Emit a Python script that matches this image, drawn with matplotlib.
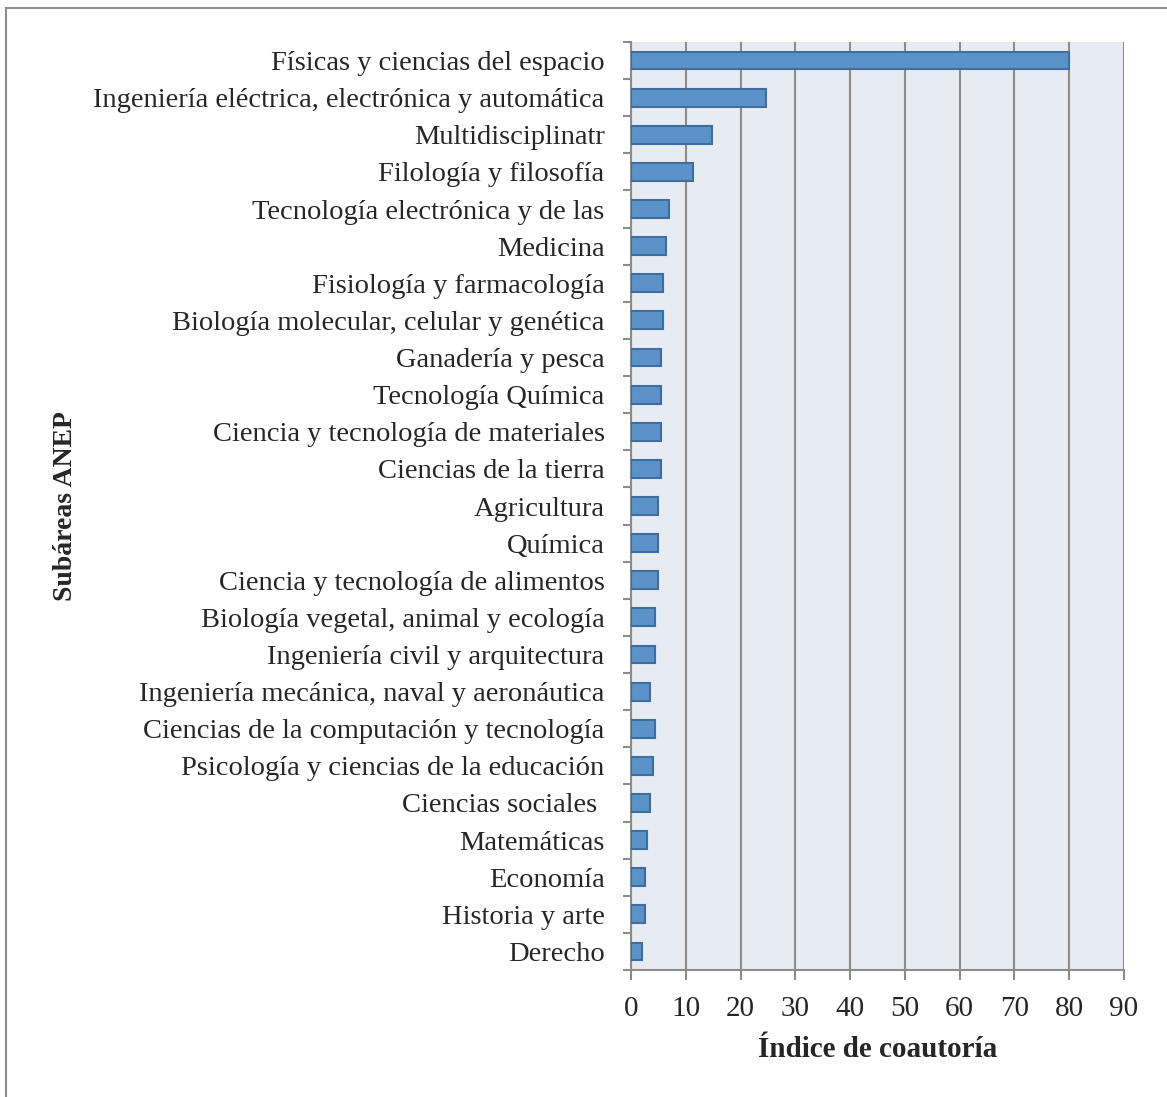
import numpy as np
import matplotlib.pyplot as plt
from matplotlib.patches import Rectangle

# Datos (de arriba hacia abajo)
subareas = [
    "Físicas y ciencias del espacio",
    "Ingeniería eléctrica, electrónica y automática",
    "Multidisciplinatr",
    "Filología y filosofía",
    "Tecnología electrónica y de las",
    "Medicina",
    "Fisiología y farmacología",
    "Biología molecular, celular y genética",
    "Ganadería y pesca",
    "Tecnología Química",
    "Ciencia y tecnología de materiales",
    "Ciencias de la tierra",
    "Agricultura",
    "Química",
    "Ciencia y tecnología de alimentos",
    "Biología vegetal, animal y ecología",
    "Ingeniería civil y arquitectura",
    "Ingeniería mecánica, naval y aeronáutica",
    "Ciencias de la computación y tecnología",
    "Psicología y ciencias de la educación",
    "Ciencias sociales ",
    "Matemáticas",
    "Economía",
    "Historia y arte",
    "Derecho",
]
indice = [80.0, 24.6, 14.8, 11.3, 6.9, 6.4, 5.9, 5.9, 5.4, 5.4, 5.4, 5.4, 4.9,
          4.9, 4.9, 4.4, 4.4, 3.5, 4.4, 4.0, 3.5, 3.0, 2.5, 2.5, 2.0]
xticks = np.arange(0, 91, 10)

plt.rcParams['font.family'] = ['Liberation Serif', 'DejaVu Serif']
txt = '#262626'
gris = '#8c8c8c'

fig = plt.figure(figsize=(11.67, 10.97), dpi=100)
fig.patches.append(Rectangle((6/1167, -0.1), 1.2, 1.1 - 8/1097,
                             transform=fig.transFigure, fill=False,
                             edgecolor=gris, linewidth=1.5))
ax = fig.add_axes([631/1167, 1-970/1097, (1124-631)/1167, (970-42)/1097])
ax.set_facecolor('#e7ebf2')

n = len(subareas)
ypos = np.arange(n)[::-1]
ax.barh(ypos, indice, height=0.48, color='#5b93c9', edgecolor='#3e6e9f',
        linewidth=1.5, zorder=3)

ax.set_xlim(0, 90)
ax.set_ylim(-0.5, n - 0.5)
ax.set_xticks(xticks)
ax.set_xticklabels([str(v) for v in xticks], fontsize=21, color=txt)
ax.set_yticks(ypos)
ax.set_yticklabels(subareas, fontsize=20.5, color=txt)
ax.set_yticks(np.arange(n + 1) - 0.5, minor=True)
ax.tick_params(axis='y', which='major', length=0, pad=19)
ax.tick_params(axis='y', which='minor', length=6, width=1.5, color=gris, direction='out')
ax.tick_params(axis='x', length=7, width=1.5, color=gris, pad=12)
ax.grid(axis='x', color=gris, linewidth=1.5, zorder=0)
ax.set_axisbelow(True)
for s in ['top', 'right']:
    ax.spines[s].set_visible(False)
for s in ['left', 'bottom']:
    ax.spines[s].set_color(gris)
    ax.spines[s].set_linewidth(1.5)

ax.set_xlabel('Índice de coautoría', fontsize=21, fontweight='bold', color=txt, labelpad=10)
fig.text(65/1167, 1-506/1097, 'Subáreas ANEP', rotation=90, fontsize=20,
         fontweight='bold', color=txt, ha='center', va='center')

fig.savefig('out.png', dpi=100)
